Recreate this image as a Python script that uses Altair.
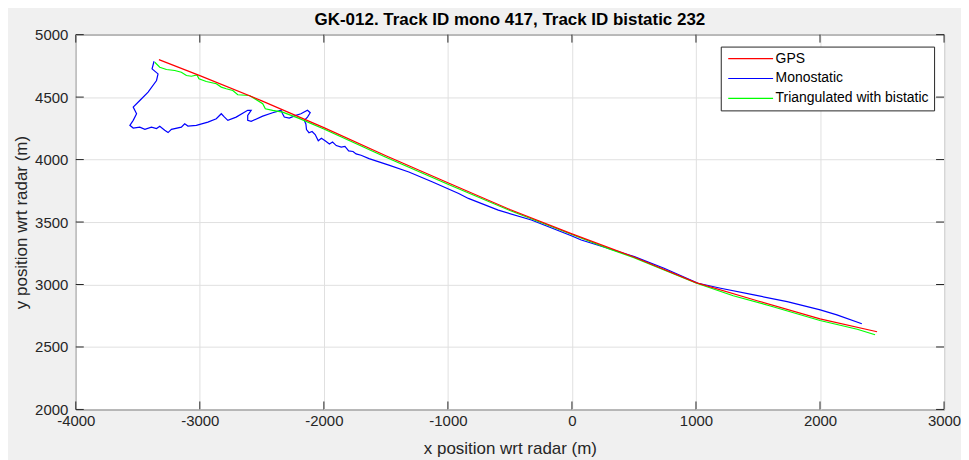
import altair as alt
import pandas as pd

# ---------------- data ----------------
gps_x = [-3330, -3000, -2500, -2000, -1500, -1000, -500, 0, 500, 1000, 1500, 2000, 2460]
gps_y = [4800, 4672, 4470, 4256, 4030, 3815, 3600, 3405, 3220, 3015, 2868, 2725, 2622]

mono_x = [-3369, -3385, -3337, -3349, -3417, -3484, -3537, -3510, -3537, -3564,
          -3537, -3484, -3443, -3390, -3349, -3323, -3283, -3256, -3229, -3149,
          -3122, -3096, -3028, -2935, -2867, -2827, -2801, -2774, -2707, -2614,
          -2586, -2614, -2614, -2586, -2493, -2413, -2345, -2333, -2319, -2279,
          -2225, -2185, -2132, -2110, -2132, -2158, -2145, -2140, -2120, -2095,
          -2070, -2045, -2020, -1990, -1955, -1930, -1900, -1860, -1830, -1800,
          -1765, -1740, -1700, -1636, -1476, -1315, -1128, -913, -835, -594,
          -327, 0, 75, 289, 503, 743, 1017, 1199, 1467, 1735,
          2002, 2136, 2337]
mono_y = [4787, 4726, 4686, 4633, 4540, 4473, 4420, 4367, 4314, 4274,
          4252, 4260, 4242, 4260, 4248, 4266, 4234, 4216, 4242, 4260,
          4287, 4268, 4274, 4300, 4327, 4367, 4340, 4314, 4340, 4394,
          4394, 4354, 4314, 4306, 4348, 4375, 4394, 4367, 4340, 4332,
          4354, 4367, 4394, 4375, 4340, 4314, 4285, 4240, 4215, 4225,
          4200, 4150, 4170, 4150, 4125, 4140, 4112, 4100, 4105, 4070,
          4065, 4045, 4035, 4008, 3955, 3901, 3822, 3729, 3689, 3595,
          3516, 3388, 3356, 3290, 3223, 3130, 3010, 2970, 2917, 2863,
          2797, 2757, 2686]

tri_x = [-3363, -3323, -3269, -3202, -3149, -3108, -3068, -3023, -3007, -2948,
         -2867, -2827, -2787, -2734, -2694, -2600, -2493, -2472, -2413, -2333,
         -2200, -2000, -1500, -1000, -500, 0, 300, 500, 1000, 1300,
         1600, 2000, 2300, 2444]
tri_y = [4779, 4739, 4721, 4713, 4699, 4673, 4667, 4678, 4647, 4625,
         4607, 4580, 4567, 4553, 4519, 4513, 4447, 4407, 4394, 4380,
         4330, 4245, 4018, 3803, 3592, 3400, 3285, 3215, 3012, 2910,
         2828, 2712, 2642, 2598]

series_names = ["GPS", "Monostatic", "Triangulated with bistatic"]
series_colors = ["#ff0000", "#0000ff", "#00ff00"]

x_ticks = [-4000, -3000, -2000, -1000, 0, 1000, 2000, 3000]
y_ticks = [2000, 2500, 3000, 3500, 4000, 4500, 5000]

title_text = "GK-012. Track ID mono 417, Track ID bistatic 232"
x_title = "x position wrt radar (m)"
y_title = "y position wrt radar (m)"

# ---------------- tables ----------------
rows = []
for name, xs, ys in [("Monostatic", mono_x, mono_y),
                     ("Triangulated with bistatic", tri_x, tri_y),
                     ("GPS", gps_x, gps_y)]:
    for i, (a, b) in enumerate(zip(xs, ys)):
        rows.append({"series": name, "x": a, "y": b, "i": i})
df = pd.DataFrame(rows)
xt = pd.DataFrame({"x": x_ticks})
yt = pd.DataFrame({"y": y_ticks})

W, H = 871, 376
TICK = 8
FONT = "Liberation Sans"
DARK = "#262626"

xscale = alt.Scale(domain=[-4000, 3000], nice=False, zero=False)
yscale = alt.Scale(domain=[2000, 5000], nice=False, zero=False)

xaxis = alt.Axis(values=x_ticks, title=x_title, labelExpr="'' + datum.value",
                 labelFlush=False, titleY=39, titleBaseline="middle")
yaxis = alt.Axis(values=y_ticks, title=y_title, labelExpr="'' + datum.value",
                 labelPadding=8, titleX=-54, titleY=H / 2,
                 titleAngle=-90, titleAlign="center", titleBaseline="middle")

X = alt.X("x:Q", scale=xscale, axis=xaxis)
Y = alt.Y("y:Q", scale=yscale, axis=yaxis)

lines = alt.Chart(df).mark_line(strokeWidth=1.2).encode(
    x=X,
    y=Y,
    color=alt.Color("series:N",
                    scale=alt.Scale(domain=series_names, range=series_colors),
                    legend=alt.Legend(title=None, orient="none", legendX=647, legendY=12,
                                      direction="vertical",
                                      symbolType="M-5,0H5", symbolSize=81,
                                      symbolStrokeWidth=1.2, symbolOffset=18,
                                      labelOffset=18, labelFontSize=14, labelFont=FONT,
                                      labelColor="#000000", strokeColor=DARK,
                                      fillColor="white", padding=5, rowPadding=6,
                                      cornerRadius=0)),
    order=alt.Order("i:Q"),
)

bottom_ticks = alt.Chart(xt).mark_rule(color=DARK, strokeWidth=1).encode(
    x=X, y=alt.value(H), y2=alt.value(H - TICK))
top_ticks = alt.Chart(xt).mark_rule(color=DARK, strokeWidth=1).encode(
    x=X, y=alt.value(0), y2=alt.value(TICK))
left_ticks = alt.Chart(yt).mark_rule(color=DARK, strokeWidth=1).encode(
    y=Y, x=alt.value(0), x2=alt.value(TICK))
right_ticks = alt.Chart(yt).mark_rule(color=DARK, strokeWidth=1).encode(
    y=Y, x=alt.value(W), x2=alt.value(W - TICK))

chart = alt.layer(lines, bottom_ticks, top_ticks, left_ticks, right_ticks).properties(
    width=W, height=H,
    title=alt.Title(title_text, fontSize=17, fontWeight="bold", font=FONT,
                    color="#000000", anchor="middle", offset=-1),
    background="#f0f0f0",
    padding={"left": 68, "top": 26, "right": 17, "bottom": 50},
    autosize=alt.AutoSizeParams(type="none"),
).configure_view(
    fill="white", stroke=DARK, strokeWidth=1
).configure_axis(
    ticks=False, domain=False, grid=True, gridColor="#e0e0e0", gridWidth=1,
    labelFont=FONT, labelFontSize=15, labelColor=DARK, labelPadding=4,
    titleFont=FONT, titleFontSize=17, titleFontWeight="normal", titleColor=DARK,
    labelOverlap=False,
)

chart.save("out.html", embed_options={"renderer": "svg", "actions": False})
